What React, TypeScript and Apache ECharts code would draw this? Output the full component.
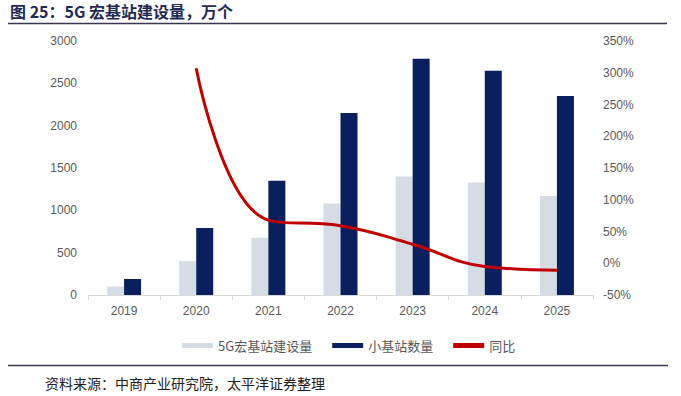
import React, { useEffect, useRef } from "react";
import * as echarts from "echarts";

const years = ["2019", "2020", "2021", "2022", "2023", "2024", "2025"];
const macroStations = [100, 400, 675, 1080, 1400, 1330, 1170];
const smallStations = [190, 790, 1350, 2150, 2790, 2650, 2350];
const yoy = [null, 307, 68, 59, 30, -5, -11];

const titleText = "图 25：5G 宏基站建设量，万个";
const sourceText = "资料来源：中商产业研究院，太平洋证券整理";

export default function App() {
  const ref = useRef<HTMLDivElement>(null);
  useEffect(() => {
    if (!ref.current) return;
    const chart = echarts.init(ref.current, undefined, { renderer: "svg" });
    const labelColor = "#595959";
    chart.setOption({
      animation: false,
      backgroundColor: "#ffffff",
      textStyle: { fontFamily: "'Liberation Sans', Arial, 'Noto Sans CJK SC', sans-serif" },
      grid: { left: 88, right: 88, top: 41, bottom: 101, containLabel: false },
      legend: {
        left: 177,
        top: 334,
        itemWidth: 31,
        itemHeight: 5,
        itemGap: 20,
        textStyle: { color: labelColor, fontSize: 13, fontFamily: "'Noto Sans CJK SC', sans-serif" },
        data: [
          { name: "5G宏基站建设量", icon: "rect" },
          { name: "小基站数量", icon: "rect" },
          { name: "同比", icon: "rect" },
        ],
      },
      xAxis: {
        type: "category",
        data: years,
        axisLine: { lineStyle: { color: "#d9d9d9", width: 1 } },
        axisTick: { show: true, alignWithLabel: false, length: 5, lineStyle: { color: "#d9d9d9" } },
        axisLabel: { color: labelColor, fontSize: 12, margin: 10 },
      },
      yAxis: [
        {
          type: "value",
          min: 0,
          max: 3000,
          interval: 500,
          splitLine: { show: false },
          axisLine: { show: false },
          axisTick: { show: false },
          axisLabel: { color: labelColor, fontSize: 12, margin: 11, formatter: (v: number) => String(v) },
        },
        {
          type: "value",
          min: -50,
          max: 350,
          interval: 50,
          position: "right",
          splitLine: { show: false },
          axisLine: { show: false },
          axisTick: { show: false },
          axisLabel: { color: labelColor, fontSize: 12, margin: 10, formatter: (v: number) => `${v}%` },
        },
      ],
      series: [
        {
          name: "5G宏基站建设量",
          type: "bar",
          data: macroStations,
          barWidth: 17,
          barGap: "0%",
          itemStyle: { color: "#D6DCE5" },
        },
        {
          name: "小基站数量",
          type: "bar",
          data: smallStations,
          barWidth: 17,
          barGap: "0%",
          itemStyle: { color: "#0B1F5E" },
        },
        {
          name: "同比",
          type: "line",
          yAxisIndex: 1,
          data: yoy,
          smooth: 0.45,
          symbol: "none",
          lineStyle: { color: "#C00000", width: 3 },
          itemStyle: { color: "#C00000" },
        },
      ],
      graphic: [
        {
          type: "text",
          left: 10,
          top: 3,
          style: {
            text: titleText,
            fill: "#1F2A55",
            font: "bold 16px 'Noto Sans CJK SC', sans-serif",
          },
        },
        {
          type: "line",
          shape: { x1: 8, y1: 23.5, x2: 667, y2: 23.5 },
          style: { stroke: "#3A3550", lineWidth: 1.5 },
        },
        {
          type: "line",
          shape: { x1: 8, y1: 365.5, x2: 668, y2: 365.5 },
          style: { stroke: "#3A3550", lineWidth: 1.5 },
        },
        {
          type: "text",
          left: 45,
          top: 376,
          style: {
            text: sourceText,
            fill: "#222222",
            font: "14px 'Noto Sans CJK SC', sans-serif",
          },
        },
      ],
    });
    return () => chart.dispose();
  }, []);
  return (
    <div
      ref={ref}
      style={{ position: "fixed", left: 0, top: 0, width: 681, height: 396 }}
    />
  );
}
